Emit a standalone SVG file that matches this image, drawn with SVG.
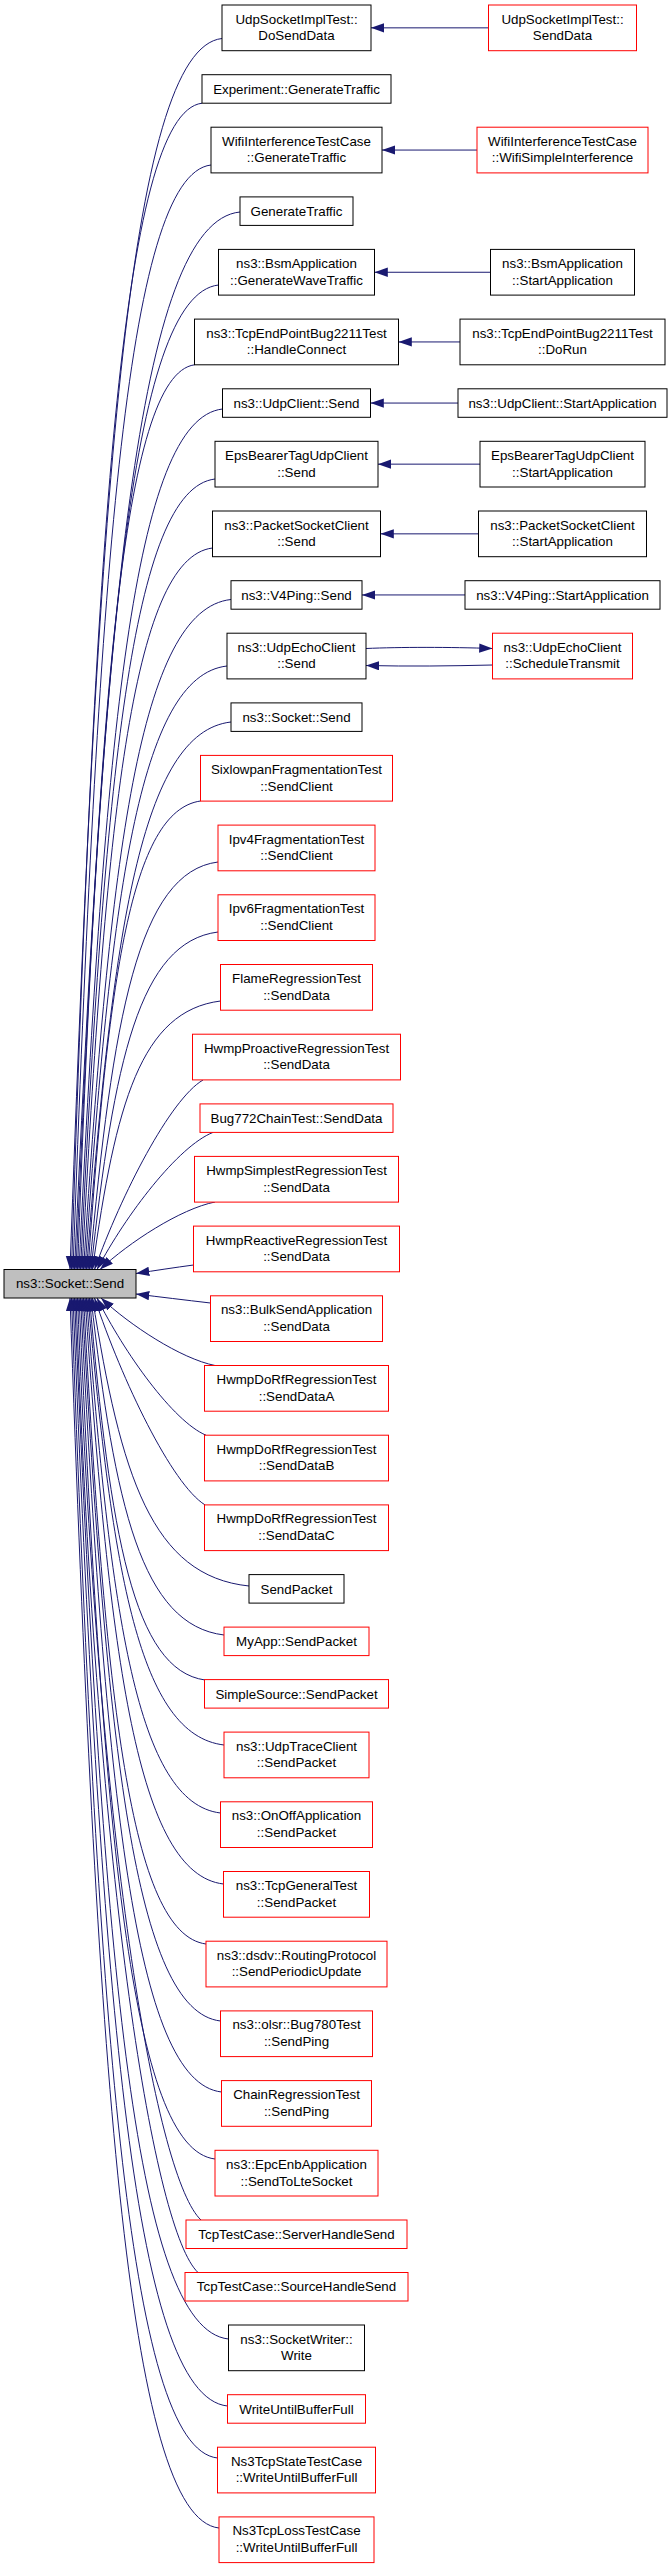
<svg xmlns="http://www.w3.org/2000/svg" width="669" height="2568" viewBox="0 0 669 2568">
<style>
rect{fill:#fff;stroke:#000;stroke-width:1}
.r rect{stroke:#ff0000}
.m rect{fill:#bfbfbf}
text{font-family:"Liberation Sans",Arial,Helvetica,sans-serif;font-size:13.33px;text-anchor:middle;fill:#000}
#edges path{fill:none;stroke:#191970;stroke-width:1;marker-end:url(#a)}
</style>
<defs>
<marker id="a" markerUnits="userSpaceOnUse" markerWidth="14" markerHeight="10" refX="13.3" refY="4.65" orient="auto" viewBox="0 0 14 10"><path d="M0,0 L13.3,4.65 L0,9.3 Z" fill="#191970"/></marker>
</defs>
<rect x="0" y="0" width="669" height="2568" style="fill:#fff;stroke:none"/>
<g id="edges">
<path d="M222,38.5 C127.8,48.5 97.4,506.3 70,1269.5"/>
<path d="M202,103.2 C121.1,113.2 95,546.4 71.5,1269.5"/>
<path d="M211,165 C125.4,175 97.8,584.7 73,1269.5"/>
<path d="M240,212 C137.4,222 104.3,613.9 74.5,1269.5"/>
<path d="M218.5,285 C130.1,295 101.7,659.1 76,1269.5"/>
<path d="M194.5,364.8 C122,374.8 98.6,708.6 77.5,1269.5"/>
<path d="M222.5,409 C133.5,419 104.8,736 79,1269.5"/>
<path d="M215,479 C131.6,489 104.7,779.4 80.5,1269.5"/>
<path d="M212.5,548 C131.6,558 105.5,822.2 82,1269.5"/>
<path d="M231,599.5 C139.5,609.5 110.1,854.1 83.5,1269.5"/>
<path d="M227,666 C139,676 110.6,895.3 85,1269.5"/>
<path d="M231,722 C141.4,732 112.5,930 86.5,1269.5"/>
<path d="M200.5,801 C130.7,811 108.3,979 88,1269.5"/>
<path d="M218,862 C138.3,872 112.6,1016.9 89.5,1269.5"/>
<path d="M218,932 C139.3,942 113.9,1060.3 91,1269.5"/>
<path d="M220.5,1001 C141.1,1011 115.5,1103 92.5,1269.5"/>
<path d="M203,1080 C170.4,1099 121.6,1193.7 94.5,1269.5"/>
<path d="M213,1132.4 C178.2,1146.1 126,1214.7 97,1269.5"/>
<path d="M215,1202 C180.5,1208.8 128.8,1242.5 100,1269.5"/>
<path d="M193.5,1265 C175,1267.5 155,1270.5 136,1273.5"/>
<path d="M210.5,1303 C185,1300 160,1297 136,1294"/>
<path d="M215,1365.5 C180.8,1358.7 129.5,1325 101,1298"/>
<path d="M206,1435.2 C173.3,1421.5 124.3,1352.9 97,1298"/>
<path d="M205,1504.9 C171.8,1484.2 122.1,1380.8 94.5,1298"/>
<path d="M249,1586 C152,1576 120.7,1476.6 92.5,1298"/>
<path d="M224,1635 C141.5,1625 114.9,1506.9 91,1298"/>
<path d="M205,1680 C133.4,1670 110.3,1534.8 89.5,1298"/>
<path d="M224,1745 C139.7,1735 112.5,1575.1 88,1298"/>
<path d="M220.5,1813 C137.4,1803 110.6,1617.3 86.5,1298"/>
<path d="M223.5,1884 C137.6,1874 109.9,1661.3 85,1298"/>
<path d="M206,1944 C130,1934 105.5,1698.5 83.5,1298"/>
<path d="M220.5,2021 C134.6,2011 106.9,1746.3 82,1298"/>
<path d="M221.5,2092 C134.1,2082 105.9,1790.3 80.5,1298"/>
<path d="M215,2159 C130.7,2149 103.5,1831.8 79,1298"/>
<path d="M201,2220 C158,2180 99.7,1869.6 77.5,1298"/>
<path d="M198,2272.5 C155,2232 98,1902.2 76,1298"/>
<path d="M228.5,2339 C133,2329 102.2,1943.4 74.5,1298"/>
<path d="M227.5,2406 C131.7,2396 100.8,1985 73,1298"/>
<path d="M217.5,2458 C127,2448 97.8,2017.2 71.5,1298"/>
<path d="M219,2528 C126.6,2518 96.8,2060.6 70,1298"/>
<path d="M488.5,27.85 L371,27.85"/>
<path d="M477,150.05 L382,150.05"/>
<path d="M490.5,272.25 L374.5,272.25"/>
<path d="M460,341.95 L398.5,341.95"/>
<path d="M458,403.05 L370.5,403.05"/>
<path d="M480,464.15 L378,464.15"/>
<path d="M478.5,533.85 L380.5,533.85"/>
<path d="M465,594.95 L362,594.95"/>
<path d="M366,648.5 C400,647 450,647 492.5,648.5"/>
<path d="M492.5,665 C450,666 410,666.5 366,665.5"/>
</g>
<g id="main" class="m"><rect x="4" y="1269.5" width="132" height="28.5"/><text x="70" y="1288.45">ns3::Socket::Send</text></g>
<g id="n1"><rect x="222" y="5" width="149" height="45.7"/><text x="296.5" y="23.55">UdpSocketImplTest::</text><text x="296.5" y="40.25">DoSendData</text></g>
<g id="r1" class="r"><rect x="488.5" y="5" width="148" height="45.7"/><text x="562.5" y="23.55">UdpSocketImplTest::</text><text x="562.5" y="40.25">SendData</text></g>
<g id="n2"><rect x="202" y="74.7" width="189" height="28.5"/><text x="296.5" y="93.65">Experiment::GenerateTraffic</text></g>
<g id="n3"><rect x="211" y="127.2" width="171" height="45.7"/><text x="296.5" y="145.75">WifiInterferenceTestCase</text><text x="296.5" y="162.45">::GenerateTraffic</text></g>
<g id="r3" class="r"><rect x="477" y="127.2" width="171" height="45.7"/><text x="562.5" y="145.75">WifiInterferenceTestCase</text><text x="562.5" y="162.45">::WifiSimpleInterference</text></g>
<g id="n4"><rect x="240" y="196.9" width="113" height="28.5"/><text x="296.5" y="215.85">GenerateTraffic</text></g>
<g id="n5"><rect x="218.5" y="249.4" width="156" height="45.7"/><text x="296.5" y="267.95">ns3::BsmApplication</text><text x="296.5" y="284.65">::GenerateWaveTraffic</text></g>
<g id="r5"><rect x="490.5" y="249.4" width="144" height="45.7"/><text x="562.5" y="267.95">ns3::BsmApplication</text><text x="562.5" y="284.65">::StartApplication</text></g>
<g id="n6"><rect x="194.5" y="319.1" width="204" height="45.7"/><text x="296.5" y="337.65">ns3::TcpEndPointBug2211Test</text><text x="296.5" y="354.35">::HandleConnect</text></g>
<g id="r6"><rect x="460" y="319.1" width="205" height="45.7"/><text x="562.5" y="337.65">ns3::TcpEndPointBug2211Test</text><text x="562.5" y="354.35">::DoRun</text></g>
<g id="n7"><rect x="222.5" y="388.8" width="148" height="28.5"/><text x="296.5" y="407.75">ns3::UdpClient::Send</text></g>
<g id="r7"><rect x="458" y="388.8" width="209" height="28.5"/><text x="562.5" y="407.75">ns3::UdpClient::StartApplication</text></g>
<g id="n8"><rect x="215" y="441.3" width="163" height="45.7"/><text x="296.5" y="459.85">EpsBearerTagUdpClient</text><text x="296.5" y="476.55">::Send</text></g>
<g id="r8"><rect x="480" y="441.3" width="165" height="45.7"/><text x="562.5" y="459.85">EpsBearerTagUdpClient</text><text x="562.5" y="476.55">::StartApplication</text></g>
<g id="n9"><rect x="212.5" y="511" width="168" height="45.7"/><text x="296.5" y="529.55">ns3::PacketSocketClient</text><text x="296.5" y="546.25">::Send</text></g>
<g id="r9"><rect x="478.5" y="511" width="168" height="45.7"/><text x="562.5" y="529.55">ns3::PacketSocketClient</text><text x="562.5" y="546.25">::StartApplication</text></g>
<g id="n10"><rect x="231" y="580.7" width="131" height="28.5"/><text x="296.5" y="599.65">ns3::V4Ping::Send</text></g>
<g id="r10"><rect x="465" y="580.7" width="195" height="28.5"/><text x="562.5" y="599.65">ns3::V4Ping::StartApplication</text></g>
<g id="n11"><rect x="227" y="633.2" width="139" height="45.7"/><text x="296.5" y="651.75">ns3::UdpEchoClient</text><text x="296.5" y="668.45">::Send</text></g>
<g id="r11" class="r"><rect x="492.5" y="633.2" width="140" height="45.7"/><text x="562.5" y="651.75">ns3::UdpEchoClient</text><text x="562.5" y="668.45">::ScheduleTransmit</text></g>
<g id="n12"><rect x="231" y="702.9" width="131" height="28.5"/><text x="296.5" y="721.85">ns3::Socket::Send</text></g>
<g id="n13" class="r"><rect x="200.5" y="755.4" width="192" height="45.7"/><text x="296.5" y="773.95">SixlowpanFragmentationTest</text><text x="296.5" y="790.65">::SendClient</text></g>
<g id="n14" class="r"><rect x="218" y="825.1" width="157" height="45.7"/><text x="296.5" y="843.65">Ipv4FragmentationTest</text><text x="296.5" y="860.35">::SendClient</text></g>
<g id="n15" class="r"><rect x="218" y="894.8" width="157" height="45.7"/><text x="296.5" y="913.35">Ipv6FragmentationTest</text><text x="296.5" y="930.05">::SendClient</text></g>
<g id="n16" class="r"><rect x="220.5" y="964.5" width="152" height="45.7"/><text x="296.5" y="983.05">FlameRegressionTest</text><text x="296.5" y="999.75">::SendData</text></g>
<g id="n17" class="r"><rect x="192.5" y="1034.2" width="208" height="45.7"/><text x="296.5" y="1052.75">HwmpProactiveRegressionTest</text><text x="296.5" y="1069.45">::SendData</text></g>
<g id="n18" class="r"><rect x="200" y="1103.9" width="193" height="28.5"/><text x="296.5" y="1122.85">Bug772ChainTest::SendData</text></g>
<g id="n19" class="r"><rect x="194.5" y="1156.4" width="204" height="45.7"/><text x="296.5" y="1174.95">HwmpSimplestRegressionTest</text><text x="296.5" y="1191.65">::SendData</text></g>
<g id="n20" class="r"><rect x="193.5" y="1226.1" width="206" height="45.7"/><text x="296.5" y="1244.65">HwmpReactiveRegressionTest</text><text x="296.5" y="1261.35">::SendData</text></g>
<g id="n21" class="r"><rect x="210.5" y="1295.8" width="172" height="45.7"/><text x="296.5" y="1314.35">ns3::BulkSendApplication</text><text x="296.5" y="1331.05">::SendData</text></g>
<g id="n22" class="r"><rect x="204.5" y="1365.5" width="184" height="45.7"/><text x="296.5" y="1384.05">HwmpDoRfRegressionTest</text><text x="296.5" y="1400.75">::SendDataA</text></g>
<g id="n23" class="r"><rect x="204.5" y="1435.2" width="184" height="45.7"/><text x="296.5" y="1453.75">HwmpDoRfRegressionTest</text><text x="296.5" y="1470.45">::SendDataB</text></g>
<g id="n24" class="r"><rect x="204.5" y="1504.9" width="184" height="45.7"/><text x="296.5" y="1523.45">HwmpDoRfRegressionTest</text><text x="296.5" y="1540.15">::SendDataC</text></g>
<g id="n25"><rect x="249" y="1574.6" width="95" height="28.5"/><text x="296.5" y="1593.55">SendPacket</text></g>
<g id="n26" class="r"><rect x="224" y="1627.1" width="145" height="28.5"/><text x="296.5" y="1646.05">MyApp::SendPacket</text></g>
<g id="n27" class="r"><rect x="204.5" y="1679.6" width="184" height="28.5"/><text x="296.5" y="1698.55">SimpleSource::SendPacket</text></g>
<g id="n28" class="r"><rect x="224" y="1732.1" width="145" height="45.7"/><text x="296.5" y="1750.65">ns3::UdpTraceClient</text><text x="296.5" y="1767.35">::SendPacket</text></g>
<g id="n29" class="r"><rect x="220.5" y="1801.8" width="152" height="45.7"/><text x="296.5" y="1820.35">ns3::OnOffApplication</text><text x="296.5" y="1837.05">::SendPacket</text></g>
<g id="n30" class="r"><rect x="223.5" y="1871.5" width="146" height="45.7"/><text x="296.5" y="1890.05">ns3::TcpGeneralTest</text><text x="296.5" y="1906.75">::SendPacket</text></g>
<g id="n31" class="r"><rect x="206" y="1941.2" width="181" height="45.7"/><text x="296.5" y="1959.75">ns3::dsdv::RoutingProtocol</text><text x="296.5" y="1976.45">::SendPeriodicUpdate</text></g>
<g id="n32" class="r"><rect x="220.5" y="2010.9" width="152" height="45.7"/><text x="296.5" y="2029.45">ns3::olsr::Bug780Test</text><text x="296.5" y="2046.15">::SendPing</text></g>
<g id="n33" class="r"><rect x="221.5" y="2080.6" width="150" height="45.7"/><text x="296.5" y="2099.15">ChainRegressionTest</text><text x="296.5" y="2115.85">::SendPing</text></g>
<g id="n34" class="r"><rect x="215" y="2150.3" width="163" height="45.7"/><text x="296.5" y="2168.85">ns3::EpcEnbApplication</text><text x="296.5" y="2185.55">::SendToLteSocket</text></g>
<g id="n35" class="r"><rect x="186" y="2220" width="221" height="28.5"/><text x="296.5" y="2238.95">TcpTestCase::ServerHandleSend</text></g>
<g id="n36" class="r"><rect x="185" y="2272.5" width="223" height="28.5"/><text x="296.5" y="2291.45">TcpTestCase::SourceHandleSend</text></g>
<g id="n37"><rect x="228.5" y="2325" width="136" height="45.7"/><text x="296.5" y="2343.55">ns3::SocketWriter::</text><text x="296.5" y="2360.25">Write</text></g>
<g id="n38" class="r"><rect x="227.5" y="2394.7" width="138" height="28.5"/><text x="296.5" y="2413.65">WriteUntilBufferFull</text></g>
<g id="n39" class="r"><rect x="217.5" y="2447.2" width="158" height="45.7"/><text x="296.5" y="2465.75">Ns3TcpStateTestCase</text><text x="296.5" y="2482.45">::WriteUntilBufferFull</text></g>
<g id="n40" class="r"><rect x="219" y="2516.9" width="155" height="45.7"/><text x="296.5" y="2535.45">Ns3TcpLossTestCase</text><text x="296.5" y="2552.15">::WriteUntilBufferFull</text></g>
</svg>
